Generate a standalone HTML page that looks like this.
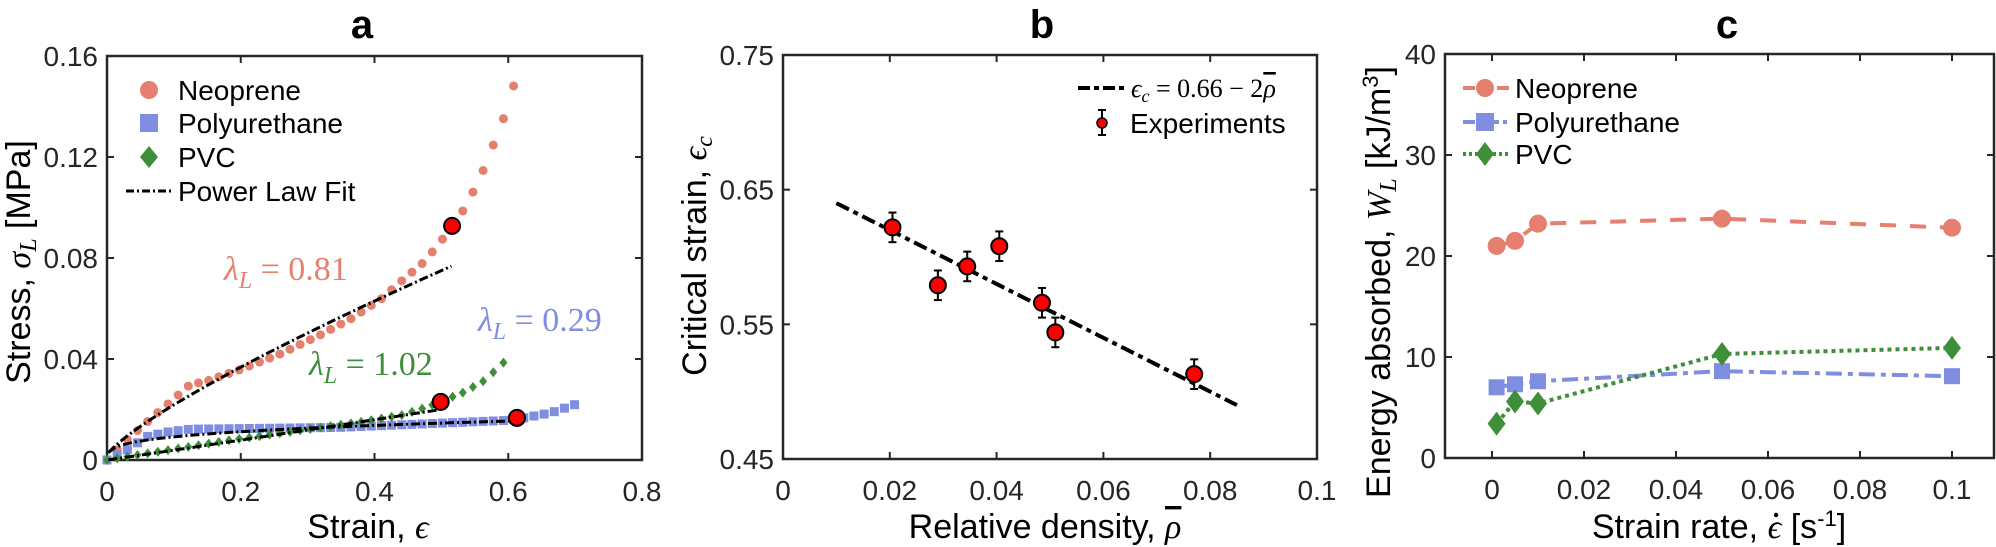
<!DOCTYPE html>
<html><head><meta charset="utf-8"><style>
html,body{margin:0;padding:0;background:#fff}
svg{display:block}
text{font-family:"Liberation Sans",sans-serif;fill:#262626}
.t{font-size:28px}
.lab{font-size:34px;fill:#000}
.leg{font-size:28px;fill:#000}
.ttl{font-size:40px;font-weight:bold;fill:#000}
.ser{font-family:"Liberation Serif","DejaVu Serif",serif}
.ol{text-decoration:overline}
</style></head><body>
<svg id="s" width="1996" height="547" viewBox="0 0 1996 547" xmlns="http://www.w3.org/2000/svg">
<text class="ttl" x="362" y="38" text-anchor="middle">a</text>
<text class="ttl" x="1042" y="38" text-anchor="middle">b</text>
<text class="ttl" x="1727" y="38" text-anchor="middle">c</text>
<g id="g"></g>
<text class="lab" x="368" y="538" text-anchor="middle">Strain, <tspan class="ser" font-style="italic">ϵ</tspan></text>
<text class="lab" transform="translate(30,262) rotate(-90)" text-anchor="middle">Stress, <tspan class="ser" font-style="italic">σ<tspan font-size="24" dy="6">L</tspan></tspan><tspan dy="-6"> [MPa]</tspan></text>
<text class="lab" x="1045" y="538" text-anchor="middle">Relative density, <tspan class="ser ol" font-style="italic">ρ</tspan></text>
<text class="lab" transform="translate(706,256) rotate(-90)" text-anchor="middle">Critical strain, <tspan class="ser" font-style="italic">ϵ<tspan font-size="24" dy="6">c</tspan></tspan></text>
<text id="sr" class="lab" x="1719" y="538" text-anchor="middle">Strain rate, <tspan class="ser" font-style="italic">ϵ</tspan> [s<tspan font-size="22" dy="-12">-1</tspan><tspan dy="12">]</tspan></text>
<text class="lab" transform="translate(1390,282) rotate(-90)" text-anchor="middle">Energy absorbed, <tspan class="ser" font-style="italic">W<tspan font-size="24" dy="6">L</tspan></tspan><tspan dy="-6"> [kJ/m</tspan><tspan font-size="22" dy="-12">3</tspan><tspan dy="12">]</tspan></text>
<text class="ser" x="224" y="280" font-size="34" style="fill:#e5806e"><tspan font-style="italic">λ</tspan><tspan font-style="italic" font-size="24" dy="8">L</tspan><tspan dy="-8"> = 0.81</tspan></text>
<text class="ser" x="478" y="331" font-size="34" style="fill:#7f8ee0"><tspan font-style="italic">λ</tspan><tspan font-style="italic" font-size="24" dy="8">L</tspan><tspan dy="-8"> = 0.29</tspan></text>
<text class="ser" x="309" y="375" font-size="34" style="fill:#3f8f3a"><tspan font-style="italic">λ</tspan><tspan font-style="italic" font-size="24" dy="8">L</tspan><tspan dy="-8"> = 1.02</tspan></text>
<circle cx="149" cy="90" r="9" fill="#e5806e"/>
<rect x="140" y="114" width="18" height="18" fill="#7f8ee0"/>
<path d="M149 146 L158 157 L149 168 L140 157Z" fill="#3f8f3a"/>
<line x1="126" y1="191" x2="173" y2="191" stroke="#000" stroke-width="3" stroke-dasharray="8,3,2,3"/>
<text class="leg" x="178" y="100">Neoprene</text>
<text class="leg" x="178" y="133">Polyurethane</text>
<text class="leg" x="178" y="167">PVC</text>
<text class="leg" x="178" y="201">Power Law Fit</text>
<line x1="1078" y1="88" x2="1125" y2="88" stroke="#000" stroke-width="4" stroke-dasharray="12,4,5,4"/>
<text class="ser" x="1131" y="97" font-size="26" style="fill:#000"><tspan font-style="italic">ϵ</tspan><tspan font-style="italic" font-size="18" dy="5">c</tspan><tspan dy="-5"> = 0.66 − 2</tspan><tspan class="ol" font-style="italic">ρ</tspan></text>
<line x1="1102" y1="110" x2="1102" y2="135" stroke="#000" stroke-width="2"/>
<line x1="1098" y1="110" x2="1106" y2="110" stroke="#000" stroke-width="2"/>
<line x1="1098" y1="135" x2="1106" y2="135" stroke="#000" stroke-width="2"/>
<circle cx="1102" cy="123" r="5" fill="#f00" stroke="#000" stroke-width="1.5"/>
<text class="leg" x="1130" y="133">Experiments</text>
<line x1="1463" y1="88" x2="1511" y2="88" stroke="#e5806e" stroke-width="4" stroke-dasharray="12,5"/>
<circle cx="1485" cy="88" r="9" fill="#e5806e"/>
<line x1="1463" y1="122" x2="1511" y2="122" stroke="#7f8ee0" stroke-width="4" stroke-dasharray="12,4,4,4"/>
<rect x="1476" y="113" width="18" height="18" fill="#7f8ee0"/>
<line x1="1463" y1="154" x2="1511" y2="154" stroke="#3f8f3a" stroke-width="4" stroke-dasharray="3,3"/>
<path d="M1485 142 L1494 154 L1485 166 L1476 154Z" fill="#3f8f3a"/>
<text class="leg" x="1515" y="98">Neoprene</text>
<text class="leg" x="1515" y="132">Polyurethane</text>
<text class="leg" x="1515" y="164">PVC</text>
</svg>
<script>
var NS="http://www.w3.org/2000/svg",G=document.getElementById("g");
function el(t,a,txt){var e=document.createElementNS(NS,t);for(var k in a)e.setAttribute(k,a[k]);if(txt!=null)e.textContent=txt;G.appendChild(e);return e;}
function axes(L,R,T,B,xt,yt,fx,fy){
 el("rect",{x:L,y:T,width:R-L,height:B-T,fill:"none",stroke:"#262626","stroke-width":2.5});
 xt.forEach(function(v){var x=fx(v[0]);el("line",{x1:x,y1:B,x2:x,y2:B-7,stroke:"#262626","stroke-width":2});el("line",{x1:x,y1:T,x2:x,y2:T+7,stroke:"#262626","stroke-width":2});el("text",{x:x,y:B+41,"text-anchor":"middle","class":"t"},v[1]);});
 yt.forEach(function(v){var y=fy(v[0]);el("line",{x1:L,y1:y,x2:L+7,y2:y,stroke:"#262626","stroke-width":2});el("line",{x1:R,y1:y,x2:R-7,y2:y,stroke:"#262626","stroke-width":2});el("text",{x:L-9,y:y+10,"text-anchor":"end","class":"t"},v[1]);});
}
function interp(P,x){for(var i=0;i<P.length-1;i++){if(x<=P[i+1][0]){var t=(x-P[i][0])/(P[i+1][0]-P[i][0]);return P[i][1]+t*(P[i+1][1]-P[i][1]);}}return P[P.length-1][1];}
var ax=function(x){return 107+x/0.8*535},ay=function(y){return 460-y/0.16*404};
axes(107,642,56,460,[[0,"0"],[0.2,"0.2"],[0.4,"0.4"],[0.6,"0.6"],[0.8,"0.8"]],[[0,"0"],[0.04,"0.04"],[0.08,"0.08"],[0.12,"0.12"],[0.16,"0.16"]],ax,ay);
var NE=[[0,0],[0.03,0.008],[0.061,0.0153],[0.077,0.019],[0.093,0.0226],[0.123,0.0296],[0.153,0.0316],[0.199,0.0358],[0.259,0.042],[0.32,0.0497],[0.365,0.056],[0.411,0.064],[0.441,0.071],[0.472,0.078],[0.487,0.0826],[0.502,0.0876],[0.533,0.099],[0.549,0.107],[0.563,0.115],[0.578,0.125],[0.594,0.136],[0.609,0.149]];
var PU=[[0,0],[0.03,0.004],[0.045,0.0067],[0.061,0.0094],[0.093,0.0112],[0.125,0.0122],[0.346,0.0129],[0.6,0.0157],[0.63,0.017],[0.664,0.0187],[0.71,0.0229]];
var PV=[[0,0],[0.093,0.004],[0.188,0.008],[0.283,0.0115],[0.378,0.015],[0.441,0.0178],[0.473,0.0205],[0.501,0.0233],[0.533,0.0268],[0.565,0.0316],[0.593,0.0386]];
for(var x=0;x<=0.61;x+=0.0152){el("circle",{cx:ax(x),cy:ay(interp(NE,x)),r:4.5,fill:"#e5806e"});}
for(var x=0;x<=0.711;x+=0.0152){el("rect",{x:ax(x)-4.5,y:ay(interp(PU,x))-4.5,width:9,height:9,fill:"#7f8ee0"});}
for(var x=0;x<=0.594;x+=0.0152){var X=ax(x),Y=ay(interp(PV,x));el("path",{d:"M"+X+" "+(Y-5)+"L"+(X+4)+" "+Y+"L"+X+" "+(Y+5)+"L"+(X-4)+" "+Y+"Z",fill:"#3f8f3a"});}
function fit(a,l,xe,off){var d="";for(var i=0;i<=60;i++){var x=0.002+(xe-0.002)*i/60;d+=(i?"L":"M")+ax(x).toFixed(1)+" "+ay(a*Math.pow(x,l)+off).toFixed(1);}el("path",{d:d,fill:"none",stroke:"#000","stroke-width":3,"stroke-dasharray":"9,3,2,3"});}
fit(0.128,0.81,0.515,0.002);fit(0.01786,0.29,0.615,0);fit(0.0406,1.02,0.5,0);
[[0.516,0.0927],[0.499,0.023],[0.613,0.0167]].forEach(function(p){el("circle",{cx:ax(p[0]),cy:ay(p[1]),r:8,fill:"#f00",stroke:"#000","stroke-width":2});});
var bx=function(x){return 783+x/0.1*534},by=function(y){return 459-(y-0.45)/0.3*404};
axes(783,1317,55,459,[[0,"0"],[0.02,"0.02"],[0.04,"0.04"],[0.06,"0.06"],[0.08,"0.08"],[0.1,"0.1"]],[[0.45,"0.45"],[0.55,"0.55"],[0.65,"0.65"],[0.75,"0.75"]],bx,by);
el("line",{x1:bx(0.01),y1:by(0.64),x2:bx(0.085),y2:by(0.49),stroke:"#000","stroke-width":4,"stroke-dasharray":"14,5,5,5"});
[[0.0205,0.622],[0.029,0.579],[0.0345,0.593],[0.0405,0.608],[0.0485,0.566],[0.051,0.544],[0.077,0.513]].forEach(function(p){var X=bx(p[0]),y1=by(p[1]+0.011),y2=by(p[1]-0.011);
el("line",{x1:X,y1:y1,x2:X,y2:y2,stroke:"#000","stroke-width":2});el("line",{x1:X-4,y1:y1,x2:X+4,y2:y1,stroke:"#000","stroke-width":2});el("line",{x1:X-4,y1:y2,x2:X+4,y2:y2,stroke:"#000","stroke-width":2});
el("circle",{cx:X,cy:by(p[1]),r:8,fill:"#f00",stroke:"#000","stroke-width":2});});
var cx=function(x){return 1492+x*4600},cy=function(y){return 458-y/40*404};
axes(1445,1994,54,458,[[0,"0"],[0.02,"0.02"],[0.04,"0.04"],[0.06,"0.06"],[0.08,"0.08"],[0.1,"0.1"]],[[0,"0"],[10,"10"],[20,"20"],[30,"30"],[40,"40"]],cx,cy);
var xs=[0.001,0.005,0.01,0.05,0.1];
function ser(ys,col,da,mk){var d="";xs.forEach(function(x,i){d+=(i?"L":"M")+cx(x)+" "+cy(ys[i]);});el("path",{d:d,fill:"none",stroke:col,"stroke-width":4,"stroke-dasharray":da});
xs.forEach(function(x,i){var X=cx(x),Y=cy(ys[i]);if(mk=="o")el("circle",{cx:X,cy:Y,r:9,fill:col});else if(mk=="s")el("rect",{x:X-8,y:Y-8,width:16,height:16,fill:col});else el("path",{d:"M"+X+" "+(Y-12)+"L"+(X+9)+" "+Y+"L"+X+" "+(Y+12)+"L"+(X-9)+" "+Y+"Z",fill:col});});}
ser([21,21.5,23.2,23.7,22.8],"#e5806e","16,14","o");
ser([7.0,7.3,7.6,8.6,8.1],"#7f8ee0","16,6,5,6","s");
ser([3.4,5.6,5.4,10.3,10.9],"#3f8f3a","4,4","d");
// dot over epsilon in strain-rate label
try{var sr=document.getElementById("sr"),tsp=sr.querySelector("tspan.ser"),bb=tsp.getBBox();el("circle",{cx:bb.x+bb.width/2+1,cy:bb.y+6,r:2.2,fill:"#000"});}catch(e){}
</script>
</body></html>
